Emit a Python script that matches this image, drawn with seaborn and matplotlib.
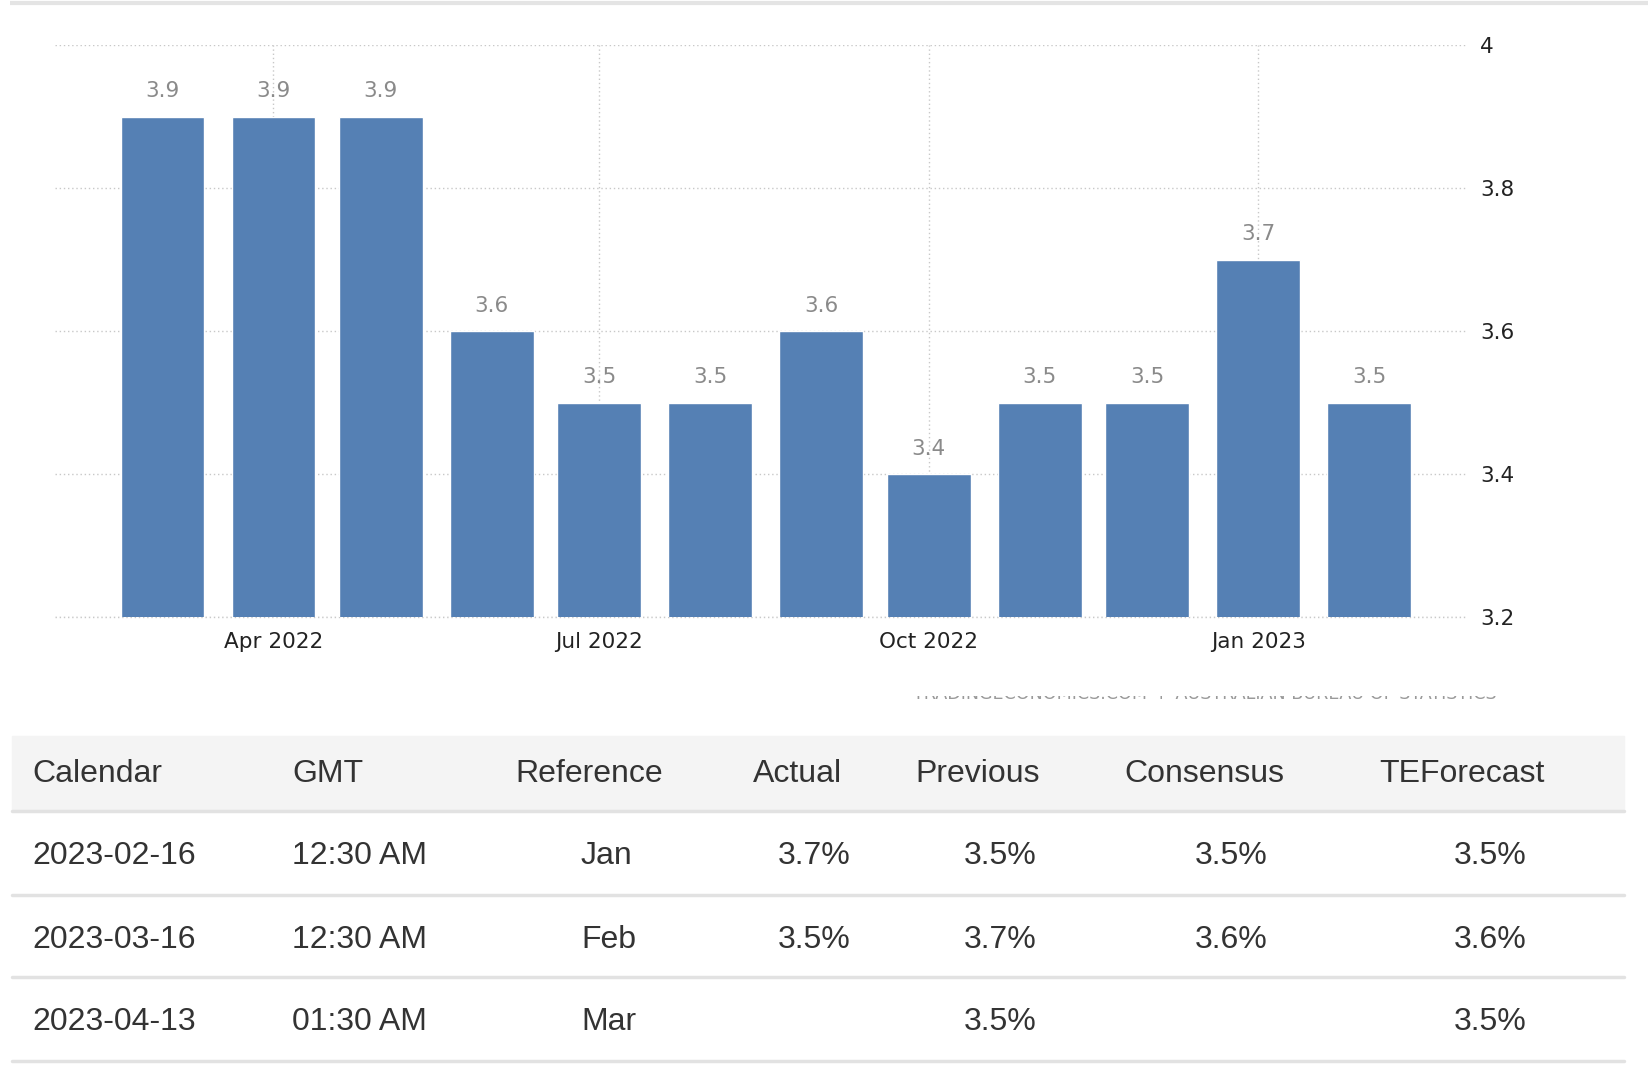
import pandas as pd
import matplotlib
matplotlib.use("Agg")
import matplotlib.pyplot as plt
import matplotlib.dates as mdates
import seaborn as sns

# --- Chart data (monthly values) ---
months = ["2022-03-01", "2022-04-01", "2022-05-01", "2022-06-01", "2022-07-01", "2022-08-01",
          "2022-09-01", "2022-10-01", "2022-11-01", "2022-12-01", "2023-01-01", "2023-02-01"]
rates = [3.9, 3.9, 3.9, 3.6, 3.5, 3.5, 3.6, 3.4, 3.5, 3.5, 3.7, 3.5]
tick_dates = ["2022-04-01", "2022-07-01", "2022-10-01", "2023-01-01"]
tick_labels = ["Apr 2022", "Jul 2022", "Oct 2022", "Jan 2023"]
y_ticks = [3.2, 3.4, 3.6, 3.8, 4.0]
y_labels = ["3.2", "3.4", "3.6", "3.8", "4"]

# --- Calendar table ---
table_header = ["Calendar", "GMT", "Reference", "Actual", "Previous", "Consensus", "TEForecast"]
cal_dates = ["2023-02-16", "2023-03-16", "2023-04-13"]
cal_times = ["12:30 AM", "12:30 AM", "01:30 AM"]
cal_ref = ["Jan", "Feb", "Mar"]
cal_actual = ["3.7%", "3.5%", ""]
cal_previous = ["3.5%", "3.7%", "3.5%"]
cal_consensus = ["3.5%", "3.6%", ""]
cal_forecast = ["3.5%", "3.6%", "3.5%"]
source_note = "TRADINGECONOMICS.COM  |  AUSTRALIAN BUREAU OF STATISTICS"

sns.set_style("white")
plt.rcParams["font.family"] = ["DejaVu Sans"]

W, H = 1648, 1074
fig = plt.figure(figsize=(W / 100, H / 100), dpi=100)

# background layer in pixel coordinates (top line + table)
bg = fig.add_axes([0, 0, 1, 1], zorder=0)
bg.set_xlim(0, W)
bg.set_ylim(H, 0)
bg.axis("off")

bg.plot([10, W], [3, 3], color="#e4e4e4", linewidth=3, solid_capstyle="butt")

# chart axes
ax = fig.add_axes([55 / W, (H - 617) / H, 1411 / W, 572 / H], zorder=2)
ax.set_facecolor("none")

df = pd.DataFrame({"month": mdates.date2num(pd.to_datetime(months)), "rate": rates})
sns.barplot(data=df, x="month", y="rate", native_scale=True, width=0.78,
            color="#5580b4", saturation=1, errorbar=None, ax=ax, zorder=3)

ax.set_ylim(3.2, 4.0)
ax.set_xlim(mdates.date2num(pd.Timestamp("2022-01-30")), mdates.date2num(pd.Timestamp("2023-02-28")))

ax.set_xticks(mdates.date2num(pd.to_datetime(tick_dates)))
ax.set_xticklabels(tick_labels)
ax.set_yticks(y_ticks)
ax.set_yticklabels(y_labels)
ax.yaxis.tick_right()

ax.set_axisbelow(True)
grid_style = dict(linestyle=(0, (1, 2)), color="#c8c8c8", linewidth=1)
ax.grid(True, axis="both", **grid_style)
ax.axhline(3.2, clip_on=False, zorder=1, **grid_style)
for s in ax.spines.values():
    s.set_visible(False)

ax.tick_params(axis="y", length=0, pad=10, labelsize=15.5, labelcolor="#222222")
ax.tick_params(axis="x", length=6, width=1, color="#cccccc", pad=5, labelsize=15.5,
               labelcolor="#222222")
ax.set_xlabel("")
ax.set_ylabel("")

ax.bar_label(ax.containers[0], labels=[f"{v:.1f}" for v in rates], padding=11,
             fontsize=15.5, color="#8a8a8a")

# source note, only its lower edge is visible
note_ax = fig.add_axes([900 / W, (H - 699) / H, 640 / W, 3 / H], zorder=1)
note_ax.axis("off")
note_ax.text(0.02, 0.0, source_note, transform=note_ax.transAxes, ha="left", va="baseline",
             fontsize=12.6, color="#9a9a9a", clip_on=True)

# --- Table ---
bg.add_patch(plt.Rectangle((12, 736), 1612, 75, color="#f4f4f4", zorder=1))
for y in [811, 895, 977, 1061]:
    bg.plot([12, 1624], [y, y], color="#e2e2e2", linewidth=2.5, zorder=2)

tfont = dict(family=["Liberation Sans", "DejaVu Sans"], fontsize=23, color="#333333", va="center")
header_x = [32, 292, 515, 753, 915, 1124, 1379]
for label, x in zip(table_header, header_x):
    bg.text(x, 774, label, ha="left", **tfont)

row_y = [856, 940, 1022]
for i, y in enumerate(row_y):
    bg.text(32, y, cal_dates[i], ha="left", **tfont)
    bg.text(292, y, cal_times[i], ha="left", **tfont)
    bg.text(581, y, cal_ref[i], ha="left", **tfont)
    bg.text(851, y, cal_actual[i], ha="right", **tfont)
    bg.text(1037, y, cal_previous[i], ha="right", **tfont)
    bg.text(1268, y, cal_consensus[i], ha="right", **tfont)
    bg.text(1527, y, cal_forecast[i], ha="right", **tfont)

fig.savefig("out.png", dpi=100)
